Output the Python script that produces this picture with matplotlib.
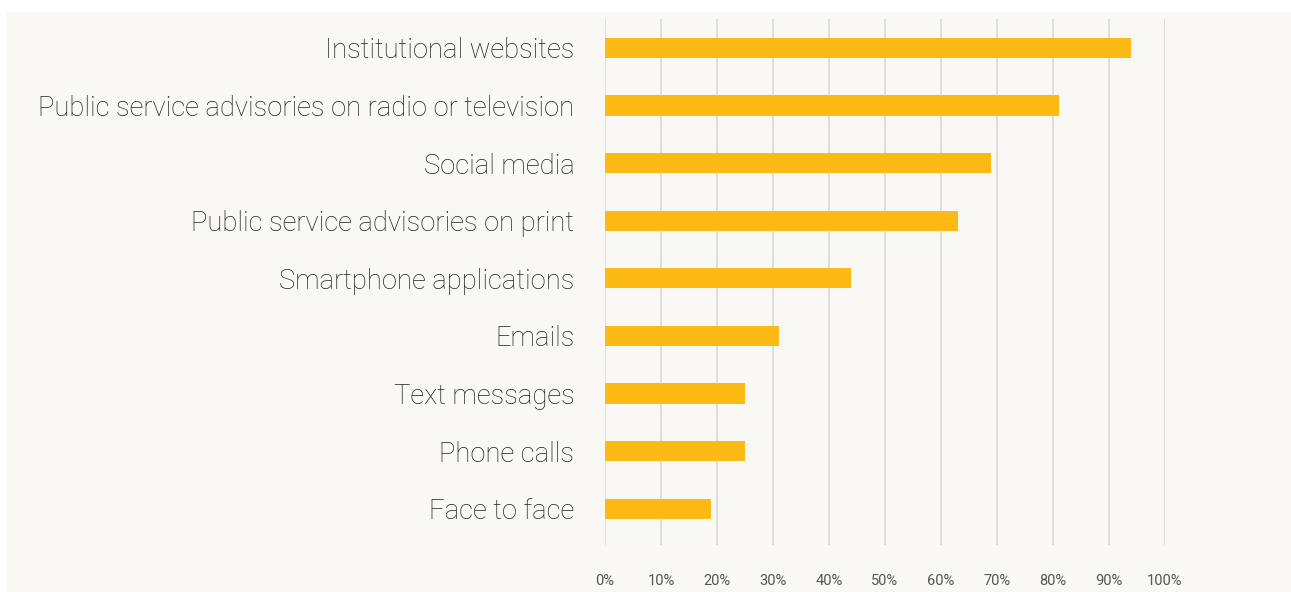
import matplotlib
matplotlib.use("Agg")
import matplotlib.pyplot as plt
from matplotlib.patches import Rectangle

categories = ["Institutional websites",
              "Public service advisories on radio or television",
              "Social media",
              "Public service advisories on print",
              "Smartphone applications",
              "Emails",
              "Text messages",
              "Phone calls",
              "Face to face"]
values = [94, 81, 69, 63, 44, 31, 25, 25, 19]
tick_vals = [0, 10, 20, 30, 40, 50, 60, 70, 80, 90, 100]
tick_labels = [f"{t}%" for t in tick_vals]

W, H = 1291, 592
fig = plt.figure(figsize=(W / 100, H / 100), dpi=100, facecolor="white")
bg = "#f9f8f4"
fig.patches.append(Rectangle((7 / W, 0), 1 - 7 / W, 1 - 12 / H,
                             transform=fig.transFigure, facecolor=bg,
                             edgecolor="none", zorder=-10))

left, right = 605 / W, 1165 / W
top, bottom = 1 - 19 / H, 1 - 545 / H
ax = fig.add_axes([left, bottom, right - left, top - bottom])
ax.set_facecolor("none")

ypos = list(range(len(categories)))
ax.barh(ypos, values, height=0.35, color="#fdba15", zorder=3)
ax.set_xlim(0, 100)
ax.set_ylim(8.63, -0.503)

ax.set_xticks(tick_vals)
ax.set_xticklabels(tick_labels, fontsize=10.5, color="#555555", family="Roboto")
ax.tick_params(axis="x", length=0, pad=21)
ax.set_yticks(ypos)
ax.set_yticklabels(categories, fontsize=19.7, color="#222222", family="Roboto",
                   fontweight="light")
ax.tick_params(axis="y", length=0, pad=22)

ax.grid(axis="x", color="#d9d9d9", linewidth=1.2, zorder=0)
for s in ax.spines.values():
    s.set_visible(False)

fig.savefig("out.png", dpi=100, facecolor="white")
